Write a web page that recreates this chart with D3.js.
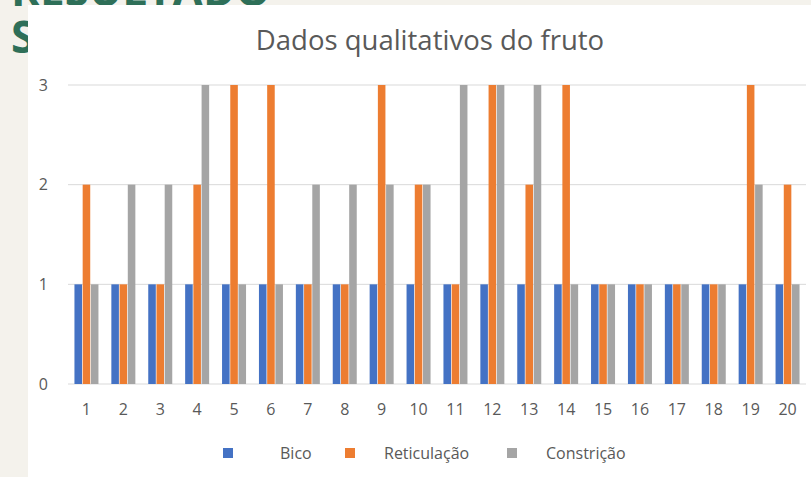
<!DOCTYPE html>
<html>
<head>
<meta charset="utf-8">
<script src="https://cdn.jsdelivr.net/npm/d3@7"></script>
<style>
  body { margin: 0; background: #f4f2ec; }
  svg { display: block; font-family: "Open Sans", "Noto Sans", sans-serif; }
</style>
</head>
<body>
<div id="chart"></div>
<script>
// data
let categories = ["1","2","3","4","5","6","7","8","9","10","11","12","13","14","15","16","17","18","19","20"];
let bico        = [1,1,1,1,1,1,1,1,1,1,1,1,1,1,1,1,1,1,1,1];
let reticulacao = [2,1,1,2,3,3,1,1,3,2,1,3,2,3,1,1,1,1,3,2];
let constricao  = [1,2,2,3,1,1,2,2,2,2,3,3,3,1,1,1,1,1,2,1];
let seriesNames = ["Bico", "Reticulação", "Constrição"];
let yTicks = [0, 1, 2, 3];

let colors = ["#4472c4", "#ed7d31", "#a5a5a5"];
let seriesValues = [bico, reticulacao, constricao];

let svgWidth = 811;
let svgHeight = 477;

let svg = d3.select("#chart")
	.append("svg")
	.attr("width", svgWidth)
	.attr("height", svgHeight);

// slide background behind the chart
svg.append("rect")
	.attr("width", svgWidth)
	.attr("height", svgHeight)
	.attr("fill", "#f4f2ec");

svg.append("text")
	.attr("x", 11)
	.attr("y", 6)
	.attr("fill", "#2e6f58")
	.attr("font-weight", "bold")
	.attr("font-size", 44)
	.text("RESULTADO");

svg.append("text")
	.attr("x", 11)
	.attr("y", 53)
	.attr("fill", "#2e6f58")
	.attr("font-weight", "bold")
	.attr("font-size", 44)
	.text("S");

// white chart area
svg.append("rect")
	.attr("x", 28)
	.attr("y", 5)
	.attr("width", svgWidth - 28)
	.attr("height", svgHeight - 5)
	.attr("fill", "#ffffff");

svg.append("text")
	.attr("x", 430)
	.attr("y", 50)
	.attr("text-anchor", "middle")
	.attr("fill", "#595959")
	.attr("font-size", 27.5)
	.text("Dados qualitativos do fruto");

let x0 = d3.scaleBand()
	.domain(categories)
	.range([68, 806]);

let groupWidth = 24;
let x1 = d3.scaleBand()
	.domain(seriesNames)
	.range([0, groupWidth])
	.paddingInner(0.08);

let y = d3.scaleLinear()
	.domain([0, 3])
	.range([384, 85]);

// gridlines
svg.append("g")
	.selectAll("line")
	.data(yTicks)
	.enter()
	.append("line")
	.attr("x1", 68)
	.attr("x2", 806)
	.attr("y1", d => y(d))
	.attr("y2", d => y(d))
	.attr("stroke", "#d9d9d9")
	.attr("stroke-width", 1);

// y tick labels
let leftAxis = d3.axisLeft(y).tickValues(yTicks).tickSize(0).tickPadding(0).tickFormat(d3.format("d"));
let yAxisG = svg.append("g")
	.attr("transform", "translate(48,0)")
	.call(leftAxis);
yAxisG.select(".domain").remove();
yAxisG.selectAll("text")
	.attr("fill", "#595959")
	.attr("font-size", 16)
	.attr("font-family", "Open Sans, sans-serif");

// x tick labels
let bottomAxis = d3.axisBottom(x0).tickSize(0).tickPadding(0);
let xAxisG = svg.append("g")
	.attr("transform", "translate(0,403.5)")
	.call(bottomAxis);
xAxisG.select(".domain").remove();
xAxisG.selectAll("text")
	.attr("fill", "#595959")
	.attr("font-size", 16)
	.attr("font-family", "Open Sans, sans-serif");

// bars
let offset = (x0.bandwidth() - groupWidth) / 2;
seriesNames.forEach(function(name, i) {
	svg.append("g")
		.selectAll("rect")
		.data(seriesValues[i])
		.enter()
		.append("rect")
		.attr("x", (d, j) => x0(categories[j]) + offset + x1(name))
		.attr("y", d => y(d))
		.attr("width", x1.bandwidth())
		.attr("height", d => y(0) - y(d))
		.attr("fill", colors[i]);
});

// legend
let legendX = [223, 345, 507];
let legendTextX = [280, 384, 546];
let legend = svg.append("g");
seriesNames.forEach(function(name, i) {
	legend.append("rect")
		.attr("x", legendX[i])
		.attr("y", 448)
		.attr("width", 10)
		.attr("height", 10)
		.attr("fill", colors[i]);
	legend.append("text")
		.attr("x", legendTextX[i])
		.attr("y", 459)
		.attr("fill", "#595959")
		.attr("font-size", 16)
		.text(name);
});
</script>
</body>
</html>
